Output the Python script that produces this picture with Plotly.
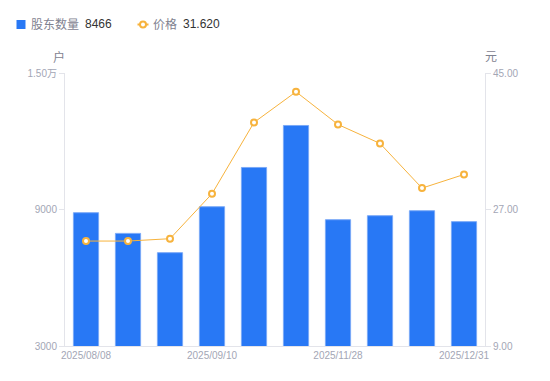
import plotly.graph_objects as go

dates = ["2025/08/08", "2025/08/20", "2025/08/29", "2025/09/10", "2025/09/30",
         "2025/10/31", "2025/11/28", "2025/12/10", "2025/12/19", "2025/12/31"]
holders = [8859, 7950, 7102, 9122, 10848, 12693, 8551, 8727, 8946, 8466]
prices = [22.84, 22.84, 23.15, 29.08, 38.48, 42.52, 38.21, 35.71, 29.82, 31.62]

shown_ticks = [dates[0], dates[3], dates[6], dates[9]]
left_ticks = [3000, 9000, 15000]
left_ticktext = ["3000", "9000", "1.50万"]
right_ticks = [9, 27, 45]
right_ticktext = ["9.00", "27.00", "45.00"]

FONT = "Liberation Sans, Arial, Noto Sans CJK SC, sans-serif"
GRAY = "#A3A6B5"
LEG = "#7F8290"
AXIS = "#E3E4EA"
BLUE = "#2878F5"
ORANGE = "#F7B33D"

# page has an 8px body margin; plot area in page pixels: x 65..485, y 73..346
OFF = 8
PL, PR, PT, PB = 65, 485, 73, 346
W, H = 550 - OFF, 381 - OFF

fig = go.Figure()
fig.add_trace(go.Bar(
    x=dates, y=holders, width=0.6,
    marker=dict(color=BLUE, line=dict(color="#7AA9F7", width=1)),
    name="股东数量", yaxis="y", showlegend=False,
))
fig.add_trace(go.Scatter(
    x=dates, y=prices, mode="lines+markers",
    line=dict(color=ORANGE, width=1),
    marker=dict(symbol="circle", size=6, color="white", line=dict(color=ORANGE, width=2)),
    name="价格", yaxis="y2", showlegend=False,
))

def px_x(p):
    return (p - PL) / (PR - PL)

def px_y(p):
    return (PB - p) / (PB - PT)

shapes = [
    dict(type="rect", xref="paper", yref="paper", x0=px_x(16.5), x1=px_x(25.5),
         y0=px_y(29), y1=px_y(20), fillcolor=BLUE, line=dict(width=0)),
    dict(type="line", xref="paper", yref="paper", x0=px_x(137.5), x1=px_x(148.5),
         y0=px_y(24.5), y1=px_y(24.5), line=dict(color=ORANGE, width=2)),
    dict(type="circle", xref="paper", yref="paper", x0=px_x(140), x1=px_x(146),
         y0=px_y(27.5), y1=px_y(21.5), fillcolor="white", line=dict(color=ORANGE, width=2)),
]

ann = []
def label(text, x, y, color, size=12, anchor="left"):
    ann.append(dict(text=text, xref="paper", yref="paper", x=px_x(x), y=px_y(y),
                    xanchor=anchor, yanchor="middle", showarrow=False,
                    font=dict(size=size, color=color)))

label("股东数量", 29, 24.5, LEG)
label(str(holders[-1]), 83, 24.5, "#333333")
label("价格", 151, 24.5, LEG)
label(f"{prices[-1]:.3f}", 181, 24.5, "#333333")
label("户", 58.5, 57, LEG, anchor="center")
label("元", 490.5, 57, LEG, anchor="center")

fig.update_layout(
    width=W, height=H,
    margin=dict(l=PL - OFF, r=550 - PR, t=PT - OFF, b=381 - PB, autoexpand=False),
    paper_bgcolor="white", plot_bgcolor="white",
    font=dict(family=FONT, size=10, color=GRAY),
    showlegend=False,
    xaxis=dict(type="category", range=[-0.5, 9.5], tickmode="array",
               tickvals=shown_ticks, ticktext=shown_ticks, showgrid=False,
               showline=True, linecolor=AXIS, linewidth=1, ticks="",
               tickfont=dict(size=10, color=GRAY), zeroline=False),
    yaxis=dict(range=[3000, 15000], tickmode="array", tickvals=left_ticks,
               ticktext=left_ticktext, showgrid=False, showline=True,
               linecolor=AXIS, linewidth=1, ticks="outside", ticklen=5,
               tickcolor=AXIS, tickfont=dict(size=10, color=GRAY), zeroline=False),
    yaxis2=dict(range=[9, 45], overlaying="y", side="right", tickmode="array",
                tickvals=right_ticks, ticktext=right_ticktext, showgrid=False,
                showline=True, linecolor=AXIS, linewidth=1, ticks="outside",
                ticklen=5, tickcolor=AXIS, tickfont=dict(size=10, color=GRAY),
                zeroline=False),
    shapes=shapes,
    annotations=ann,
)

fig.write_html("out.html")
